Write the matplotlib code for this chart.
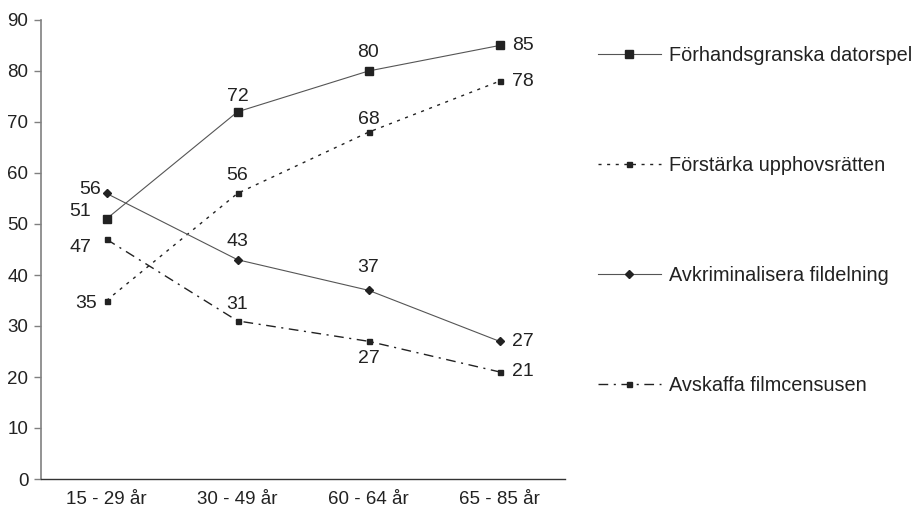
import matplotlib
matplotlib.use("Agg")
import matplotlib.pyplot as plt

plt.rcParams['font.family'] = ['Liberation Sans', 'DejaVu Sans']

categories = ["15 - 29 år", "30 - 49 år", "60 - 64 år", "65 - 85 år"]
series_names = ["Förhandsgranska datorspel", "Förstärka upphovsrätten",
                "Avkriminalisera fildelning", "Avskaffa filmcensusen"]
forhandsgranska = [51, 72, 80, 85]
forstarka = [35, 56, 68, 78]
avkriminalisera = [56, 43, 37, 27]
avskaffa = [47, 31, 27, 21]
y_ticks = [0, 10, 20, 30, 40, 50, 60, 70, 80, 90]

fig = plt.figure(figsize=(9.2, 5.13), dpi=100)
ax = fig.add_axes([41/920, 1-479/513, (565-41)/920, (479-20)/513])

x = list(range(len(categories)))
col = '#222222'
styles = [
    dict(ls='-', marker='s', ms=6, lw=0.8, color='#555555', mfc=col, mec=col),
    dict(ls=(0, (2.2, 4.0)), marker='s', ms=3.6, lw=1.0, color=col, mfc=col, mec=col),
    dict(ls='-', marker='D', ms=3.6, lw=0.8, color='#555555', mfc=col, mec=col),
    dict(ls=(0, (7, 4, 1.5, 4)), marker='s', ms=3.6, lw=1.0, color=col, mfc=col, mec=col),
]
data = [forhandsgranska, forstarka, avkriminalisera, avskaffa]
lines = []
for name, vals, st in zip(series_names, data, styles):
    ln, = ax.plot(x, vals, label=name, **st)
    lines.append(ln)

# data label offsets in points for each point
offsets = [
    [(-11, 5, 'right', 'center'), (0, 5, 'center', 'bottom'), (0, 7, 'center', 'bottom'), (9, 0, 'left', 'center')],
    [(-7, -2, 'right', 'center'), (0, 7, 'center', 'bottom'), (0, 3, 'center', 'bottom'), (9, 0, 'left', 'center')],
    [(-4, 3, 'right', 'center'), (0, 7, 'center', 'bottom'), (0, 10, 'center', 'bottom'), (9, 0, 'left', 'center')],
    [(-11, -6, 'right', 'center'), (0, 6, 'center', 'bottom'), (0, -6, 'center', 'top'), (9, 0, 'left', 'center')],
]
for vals, offs in zip(data, offsets):
    for xi, v, (dx, dy, ha, va) in zip(x, vals, offs):
        ax.annotate(str(v), (xi, v), xytext=(dx, dy), textcoords='offset points',
                    ha=ha, va=va, fontsize=14, color='#222222')

ax.set_xlim(-0.5, 3.5)
ax.set_ylim(0, 90)
ax.set_yticks(y_ticks)
ax.set_xticks(x)
ax.set_xticklabels(categories)
ax.tick_params(axis='x', length=0, pad=9, labelsize=13.5, colors='#222222')
ax.tick_params(axis='y', length=5, width=1, color='#808080', pad=4, labelsize=13.5, labelcolor='#222222')
for s in ['top', 'right']:
    ax.spines[s].set_visible(False)
ax.spines['left'].set_color('#808080')
ax.spines['bottom'].set_color('#333333')
ax.spines['left'].set_linewidth(1.2)
ax.spines['bottom'].set_linewidth(1.0)

leg = fig.legend(handles=lines, loc='upper left', bbox_to_anchor=(598/920, 1-46/513),
                 frameon=False, fontsize=14.3, handlelength=3.15, handletextpad=0.4,
                 labelspacing=4.58, borderpad=0, borderaxespad=0, numpoints=1)
for t in leg.get_texts():
    t.set_color('#222222')

fig.savefig("out.png", dpi=100)
